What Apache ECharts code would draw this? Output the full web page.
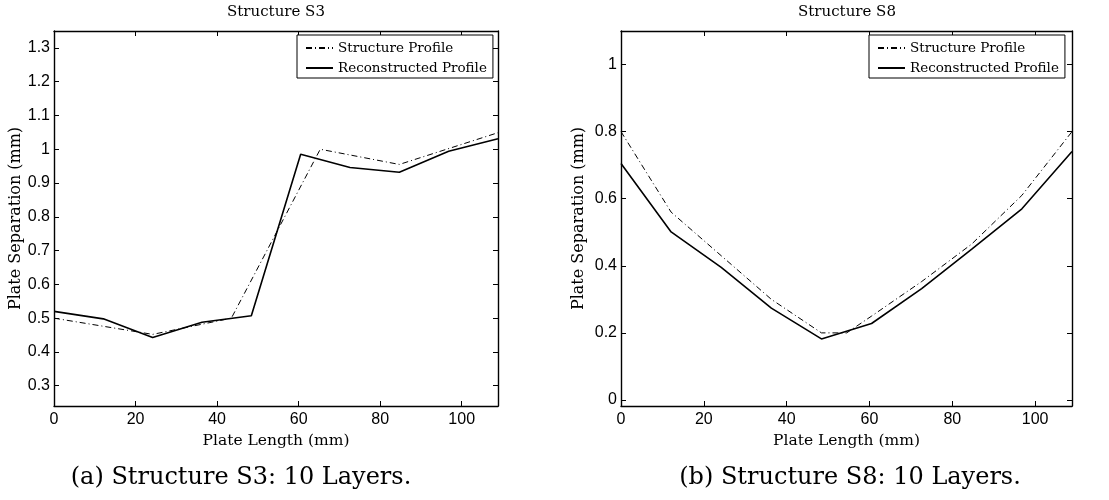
<!DOCTYPE html>
<html><head><meta charset="utf-8">
<script src="https://cdn.jsdelivr.net/npm/echarts@6/dist/echarts.min.js"></script>
<style>html,body{margin:0;padding:0;background:#fff}#c{width:1109px;height:500px}</style>
</head><body><div id="c"></div>
<script>
// ---- data ----
const layerX = [0, 12.1, 24.2, 36.3, 48.4, 60.5, 72.6, 84.7, 96.8, 108.9];
const s3Reconstructed = [0.52, 0.498, 0.443, 0.488, 0.507, 0.985, 0.946, 0.932, 0.994, 1.031];
const s3ProfileX = [0, 24.2, 43.5, 65.3, 84.7, 108.9];
const s3Profile = [0.50, 0.452, 0.50, 1.0, 0.955, 1.049];
const s8Reconstructed = [0.705, 0.501, 0.395, 0.274, 0.182, 0.228, 0.332, 0.45, 0.570, 0.741];
const s8ProfileX = [0, 12.1, 24.2, 36.3, 48.4, 54.5, 60.5, 72.6, 84.7, 96.8, 108.9];
const s8Profile = [0.80, 0.56, 0.43, 0.30, 0.20, 0.20, 0.25, 0.353, 0.465, 0.61, 0.80];
const xTicks = [0, 20, 40, 60, 80, 100];
const s3YTicks = [0.3, 0.4, 0.5, 0.6, 0.7, 0.8, 0.9, 1, 1.1, 1.2, 1.3];
const s8YTicks = [0, 0.2, 0.4, 0.6, 0.8, 1];
const titles = ['Structure S3', 'Structure S8'];
const captions = ['(a) Structure S3: 10 Layers.', '(b) Structure S8: 10 Layers.'];
const seriesNames = ['Structure Profile', 'Reconstructed Profile'];
const xName = 'Plate Length (mm)';
const yName = 'Plate Separation (mm)';

const zip = (xs, ys) => xs.map((x, i) => [x, ys[i]]);
const SERIF = 'DejaVu Serif';
const SANS = 'Liberation Sans';
const AXLINE = {show: true, onZero: false, lineStyle: {color: '#000', width: 1.4}};

function xAxes(grid) {
  return [
    {gridIndex: grid, type: 'value', position: 'bottom', min: 0, max: 108.9,
     axisLine: AXLINE, splitLine: {show: false},
     axisTick: {inside: true, length: 5, customValues: xTicks, lineStyle: {color: '#000'}},
     axisLabel: {customValues: xTicks, color: '#000', fontFamily: SANS, fontSize: 16, margin: 6},
     name: xName, nameLocation: 'middle', nameGap: 21,
     nameTextStyle: {fontFamily: SERIF, fontSize: 15.5, color: '#000'}},
    {gridIndex: grid, type: 'value', position: 'top', min: 0, max: 108.9,
     axisLine: AXLINE, splitLine: {show: false},
     axisTick: {inside: true, length: 5, customValues: xTicks, lineStyle: {color: '#000'}},
     axisLabel: {show: false}}
  ];
}
function yAxes(grid, min, max, ticks, gap) {
  return [
    {gridIndex: grid, type: 'value', position: 'left', min: min, max: max,
     axisLine: AXLINE, splitLine: {show: false},
     axisTick: {inside: true, length: 5, customValues: ticks, lineStyle: {color: '#000'}},
     axisLabel: {customValues: ticks, color: '#000', fontFamily: SANS, fontSize: 16, margin: 4},
     name: yName, nameLocation: 'middle', nameRotate: 90, nameGap: gap,
     nameTextStyle: {fontFamily: SERIF, fontSize: 16, color: '#000'}},
    {gridIndex: grid, type: 'value', position: 'right', min: min, max: max,
     axisLine: AXLINE, splitLine: {show: false},
     axisTick: {inside: true, length: 5, customValues: ticks, lineStyle: {color: '#000'}},
     axisLabel: {show: false}}
  ];
}
const dashStyle = {color: '#000', width: 1, type: [6, 3, 1, 3]};
const solidStyle = {color: '#000', width: 1.6, type: 'solid'};
function legend(left) {
  return {left: left, top: 35, orient: 'vertical', selectedMode: false,
    data: seriesNames, itemWidth: 27, itemHeight: 14, itemGap: 6,
    padding: [6, 6, 3, 8], borderColor: '#000', borderWidth: 1, backgroundColor: '#fff',
    itemStyle: {opacity: 0, color: 'transparent', borderWidth: 0},
    textStyle: {fontFamily: SERIF, fontSize: 13.5, color: '#000'}};
}

const option = {
  animation: false,
  backgroundColor: '#fff',
  grid: [
    {left: 54, top: 31, width: 444, height: 375, containLabel: false},
    {left: 621, top: 31, width: 451, height: 375, containLabel: false}
  ],
  xAxis: [...xAxes(0), ...xAxes(1)],
  yAxis: [...yAxes(0, 0.24, 1.35, s3YTicks, 29), ...yAxes(1, -0.018, 1.1, s8YTicks, 34)],
  legend: [legend(297), legend(869)],
  series: [
    {type: 'line', name: seriesNames[0], xAxisIndex: 0, yAxisIndex: 0, data: zip(s3ProfileX, s3Profile), symbol: 'none', lineStyle: dashStyle, itemStyle: {color: '#000'}},
    {type: 'line', name: seriesNames[1], xAxisIndex: 0, yAxisIndex: 0, data: zip(layerX, s3Reconstructed), symbol: 'none', lineStyle: solidStyle, itemStyle: {color: '#000'}},
    {type: 'line', name: seriesNames[0], xAxisIndex: 2, yAxisIndex: 2, data: zip(s8ProfileX, s8Profile), symbol: 'none', lineStyle: dashStyle, itemStyle: {color: '#000'}},
    {type: 'line', name: seriesNames[1], xAxisIndex: 2, yAxisIndex: 2, data: zip(layerX, s8Reconstructed), symbol: 'none', lineStyle: solidStyle, itemStyle: {color: '#000'}}
  ],
  graphic: [
    {type: 'text', x: 276, y: 12, style: {text: titles[0], fontFamily: SERIF, fontSize: 15, fill: '#000', textAlign: 'center', textVerticalAlign: 'middle'}},
    {type: 'text', x: 847, y: 12, style: {text: titles[1], fontFamily: SERIF, fontSize: 15, fill: '#000', textAlign: 'center', textVerticalAlign: 'middle'}},
    {type: 'text', x: 241, y: 478, style: {text: captions[0], fontFamily: SERIF, fontSize: 24, fill: '#000', textAlign: 'center', textVerticalAlign: 'middle'}},
    {type: 'text', x: 850, y: 478, style: {text: captions[1], fontFamily: SERIF, fontSize: 24, fill: '#000', textAlign: 'center', textVerticalAlign: 'middle'}}
  ]
};
const chart = echarts.init(document.getElementById('c'));
chart.setOption(option);
</script>
</body></html>
